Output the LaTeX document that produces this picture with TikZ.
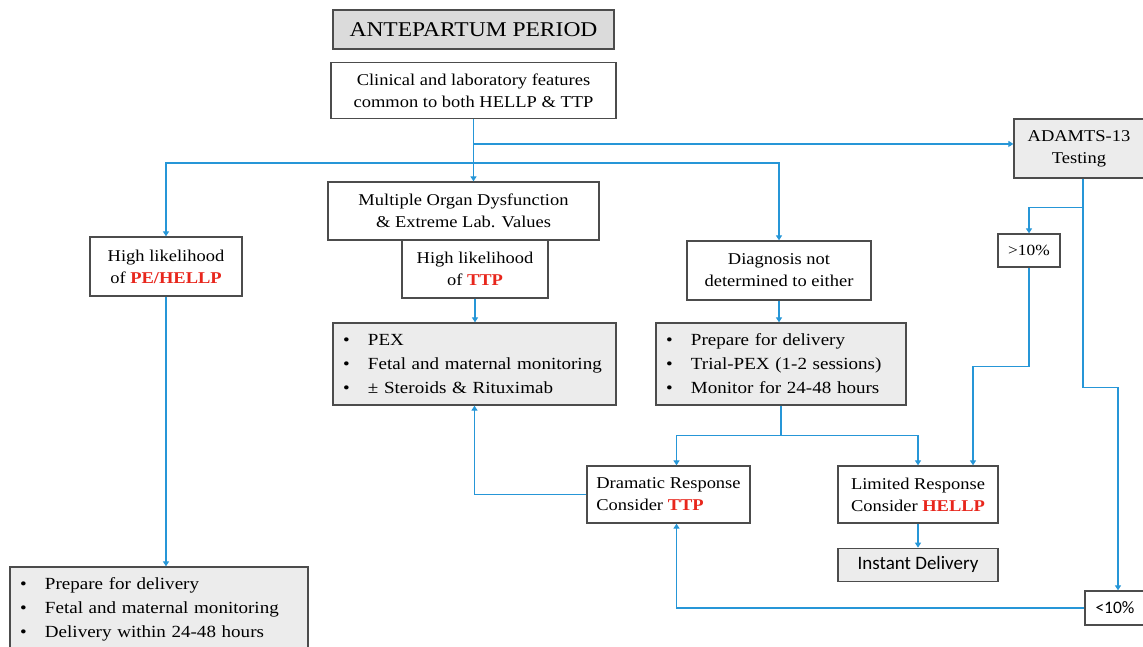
\documentclass[tikz,border=0pt]{standalone}
\usepackage{fontspec}
\setmainfont{Liberation Serif}[FakeStretch=1.12]
\newfontfamily\calibrifont{Carlito}
\usepackage{tikz}
\usetikzlibrary{arrows.meta, positioning, calc}
\definecolor{linkblue}{RGB}{38,150,215}
\definecolor{hired}{RGB}{232,38,28}
\definecolor{boxgrey}{RGB}{236,236,236}
\newcommand{\boxfont}{\fontsize{16.5}{22}\selectfont}
\newcommand{\listfont}{\fontsize{17}{24}\selectfont}
\newcommand{\bul}{\makebox[25pt][l]{\textbullet}}
\newcommand{\hi}[1]{\textcolor{hired}{\textbf{#1}}}
\tikzstyle{entity}     = [rectangle, draw=black!70, line width=1.3pt, fill=white,
                          align=center, font=\boxfont, inner sep=2pt]
\tikzstyle{greyentity} = [entity, fill=boxgrey]
\tikzstyle{listentity} = [greyentity, align=left, font=\listfont, inner xsep=10pt]
\tikzstyle{arrow}      = [draw=linkblue, line width=1.3pt, -{Triangle[width=6pt,length=5pt]}]
\tikzstyle{wire}       = [draw=linkblue, line width=1.3pt]

\begin{document}
\begin{tikzpicture}[x=1pt, y=-1pt]
  \useasboundingbox (0,0) rectangle (1143,647);

  \node (title)    [entity, fill=gray!28, minimum width=281pt, minimum height=39pt,
                    font=\fontsize{21}{24}\selectfont] at (473.5,29.5) {ANTEPARTUM PERIOD};
  \node (clinical) [entity, minimum width=285pt, minimum height=56pt, below=12pt of title]
                   {Clinical and laboratory features\\common to both HELLP \& TTP};
  \node (organ)    [entity, minimum width=271pt, minimum height=58pt] at (463.5,211)
                   {Multiple Organ Dysfunction\\\& Extreme Lab. Values};
  \node (ttp)      [entity, minimum width=146pt, minimum height=58pt] at (475,269)
                   {High likelihood\\of \hi{TTP}};
  \node (pehellp)  [entity, minimum width=152pt, minimum height=59pt] at (166,266.5)
                   {High likelihood\\of \hi{PE/HELLP}};
  \node (diag)     [entity, minimum width=184pt, minimum height=59pt] at (779,270.5)
                   {Diagnosis not\\determined to either};
  \node (adamts)   [greyentity, minimum width=130pt, minimum height=59pt] at (1079,148.5)
                   {ADAMTS-13\\Testing};
  \node (gt10)     [entity, minimum width=62pt, minimum height=33pt,
                    font=\fontsize{15.5}{17}\selectfont] at (1029,250.5) {>10\%};

  \node (pexlist)  [listentity, minimum width=283pt, minimum height=82pt, text width=263pt] at (474.5,364)
                   {\bul PEX\\\bul Fetal and maternal monitoring\\\bul ± Steroids \& Rituximab};
  \node (prep)     [listentity, minimum width=250pt, minimum height=82pt, text width=230pt] at (781,364)
                   {\bul Prepare for delivery\\\bul Trial-PEX (1-2 sessions)\\\bul Monitor for 24-48 hours};
  \node (dramatic) [entity, align=left, minimum width=163pt, minimum height=57pt] at (668.5,494.5)
                   {Dramatic Response\\Consider \hi{TTP}};
  \node (limited)  [entity, align=left, minimum width=160pt, minimum height=57pt] at (918,494.5)
                   {Limited Response\\Consider \hi{HELLP}};
  \node (instant)  [greyentity, minimum width=160pt, minimum height=33pt,
                    font=\calibrifont\fontsize{19}{21}\selectfont, below=24pt of limited] {Instant Delivery};
  \node (lt10)     [entity, minimum width=60pt, minimum height=34pt,
                    font=\calibrifont\fontsize{17.5}{19}\selectfont] at (1115,608) {<10\%};
  \node (bottomlist) [listentity, minimum width=298pt, minimum height=85pt, text width=278pt] at (159,609.5)
                   {\bul Prepare for delivery\\\bul Fetal and maternal monitoring\\\bul Delivery within 24-48 hours};

  % branches below the common features box
  \coordinate (split1) at ($(clinical.south)+(0,25)$);
  \coordinate (split2) at ($(clinical.south)+(0,44)$);
  \draw[arrow] (clinical.south) -- (clinical.south |- organ.north);
  \draw[arrow] (split1) -- (split1 -| adamts.west);
  \draw[arrow] (split2) -| (pehellp.north);
  \draw[arrow] (split2) -| (diag.north);

  \draw[arrow] (ttp.south) -- (ttp.south |- pexlist.north);
  \draw[arrow] (diag.south) -- (diag.south |- prep.north);
  \draw[arrow] (pehellp.south) -- (pehellp.south |- bottomlist.north);

  % response to trial PEX
  \coordinate (split3) at ($(prep.south)+(0,30)$);
  \draw[wire]  (prep.south) -- (split3);
  \draw[arrow] (split3) -| ([xshift=8pt]dramatic.north);
  \draw[arrow] (split3) -| (limited.north);
  \draw[arrow] (dramatic.west) -| (pexlist.south);
  \draw[arrow] (limited.south) -- (instant.north);

  % ADAMTS-13 results
  \coordinate (split4) at ($(adamts.south)+(4,29)$);
  \draw[wire]  ($(adamts.south)+(4,0)$) -- (split4);
  \draw[arrow] (split4) -| (gt10.north);
  \draw[arrow] (split4) -- ++(0,180) -| ([xshift=3pt]lt10.north);
  \draw[arrow] (gt10.south) -- ++(0,99) -| ([xshift=55pt]limited.north);
  \draw[arrow] (lt10.west) -| ([xshift=8pt]dramatic.south);
\end{tikzpicture}
\end{document}
